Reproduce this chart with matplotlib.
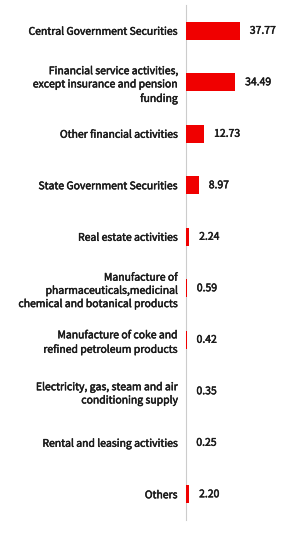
import matplotlib.pyplot as plt
import matplotlib.patheffects as pe

# Sector shares (%)
categories = [
    "Central Government Securities",
    "Financial service activities,\nexcept insurance and pension\nfunding",
    "Other financial activities",
    "State Government Securities",
    "Real estate activities",
    "Manufacture of\npharmaceuticals,medicinal\nchemical and botanical products",
    "Manufacture of coke and\nrefined petroleum products",
    "Electricity, gas, steam and air\nconditioning supply",
    "Rental and leasing activities",
    "Others",
]
values = [37.77, 34.49, 12.73, 8.97, 2.24, 0.59, 0.42, 0.35, 0.25, 2.20]
value_labels = ["37.77", "34.49", "12.73", "8.97", "2.24", "0.59", "0.42", "0.35", "0.25", "2.20"]

plt.rcParams["font.family"] = ["Noto Sans CJK SC", "DejaVu Sans"]

txt_color = "#1a1a1a"
# slight stroke to get a medium-weight look
thick = [pe.withStroke(linewidth=0.35, foreground=txt_color)]

fig = plt.figure(figsize=(3.06, 5.39), dpi=100)
ax = fig.add_axes([186 / 306, 19 / 539, 114 / 306, 515 / 539])

pos = list(range(len(categories)))
ax.barh(pos, values, height=0.35, color="#f00000", zorder=3)
ax.set_ylim(len(categories) - 0.5, -0.5)
ax.set_xlim(0, 80)

for y, v, lab in zip(pos, values, value_labels):
    ax.text(v + 7, y, lab, va="center", ha="left", fontsize=7.5,
            color=txt_color, path_effects=thick)

ax.set_yticks(pos)
ax.set_yticklabels(categories, fontsize=7.5, color=txt_color,
                   linespacing=1.4, path_effects=thick)
ax.tick_params(axis="y", length=0, pad=6)
ax.set_xticks([])

for s in ["top", "right", "bottom"]:
    ax.spines[s].set_visible(False)
ax.spines["left"].set_color("#cccccc")
ax.spines["left"].set_linewidth(0.8)
ax.spines["left"].set_zorder(1)

fig.savefig("out.png", dpi=100)
